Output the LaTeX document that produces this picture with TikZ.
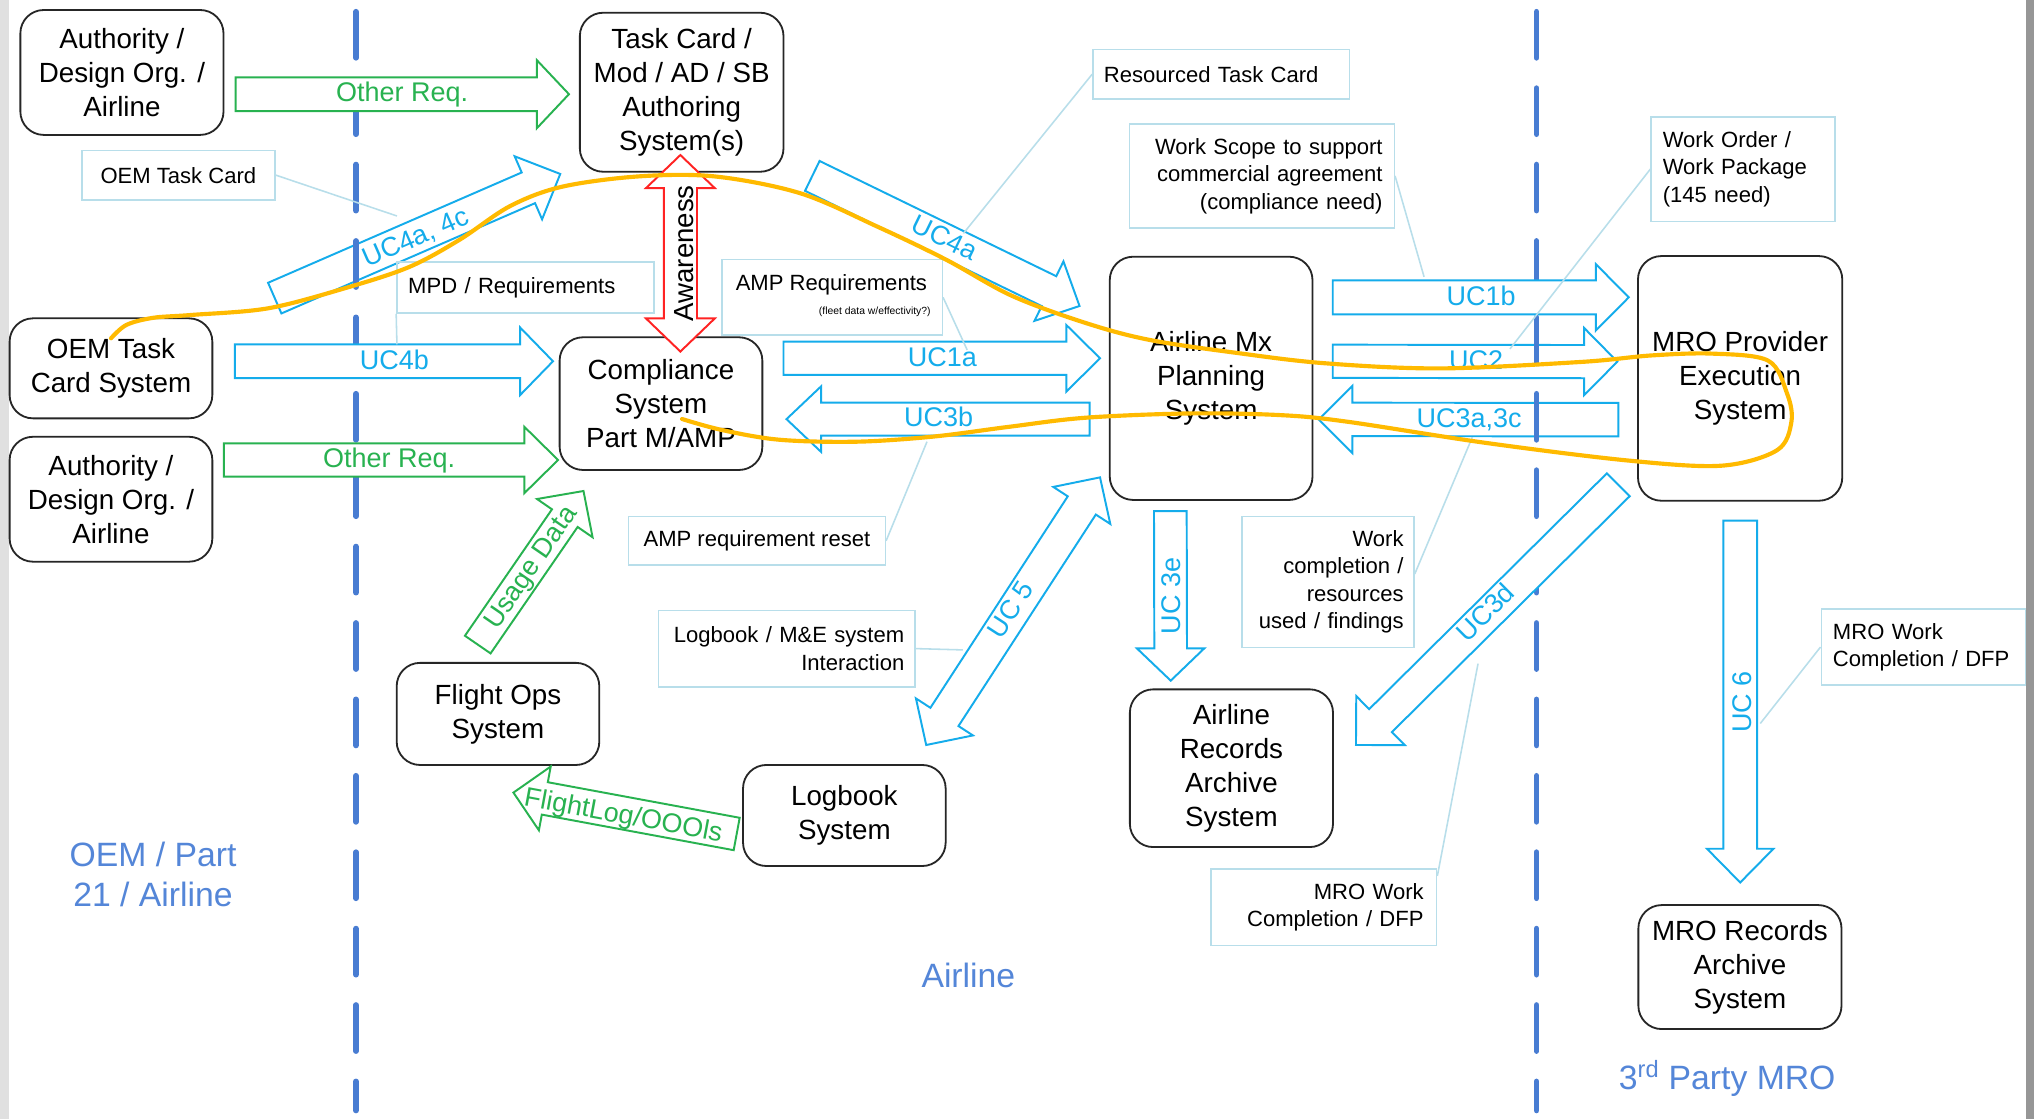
\documentclass[tikz,border=0pt]{standalone}
\usepackage{fontspec}
\setmainfont{Liberation Sans}
\usetikzlibrary{calc}
\definecolor{dashblue}{RGB}{72,124,210}
\definecolor{ucblue}{RGB}{20,172,235}
\definecolor{ucgreen}{RGB}{40,178,80}
\definecolor{callc}{RGB}{184,222,234}
\definecolor{regblue}{RGB}{84,134,216}
\definecolor{awred}{RGB}{255,35,35}
\definecolor{orng}{RGB}{255,186,0}
\definecolor{edgegray}{RGB}{150,150,150}
\definecolor{edgelight}{RGB}{224,224,224}

% single block arrow: style, tail, tip, half body, half head, head length
\newcommand\blockarr[6]{%
  \coordinate (ba-h) at ($(#3)!#6!(#2)$);
  \draw[#1] ($(#2)!#4!90:(#3)$) -- ($(ba-h)!#4!90:(#3)$) -- ($(ba-h)!#5!90:(#3)$) -- (#3)
    -- ($(ba-h)!#5!-90:(#3)$) -- ($(ba-h)!#4!-90:(#3)$) -- ($(#2)!#4!-90:(#3)$) -- cycle;}
% double block arrow
\newcommand\dblarr[6]{%
  \coordinate (da-p) at ($(#2)!#6!(#3)$);
  \coordinate (da-q) at ($(#3)!#6!(#2)$);
  \draw[#1] (#2) -- ($(da-p)!#5!90:(#3)$) -- ($(da-p)!#4!90:(#3)$) -- ($(da-q)!#4!90:(#3)$)
    -- ($(da-q)!#5!90:(#3)$) -- (#3) -- ($(da-q)!#5!-90:(#3)$) -- ($(da-q)!#4!-90:(#3)$)
    -- ($(da-p)!#4!-90:(#3)$) -- ($(da-p)!#5!-90:(#3)$) -- cycle;}

\begin{document}
\begin{tikzpicture}[x=1pt,y=-1pt,
  sysbox/.style={draw=black!85, line width=1.4pt, rounded corners=18pt, fill=white, align=center, inner sep=0pt, font=\fontsize{21.4}{26.3}\selectfont},
  blockb/.style={draw=ucblue, line width=1.5pt, fill=white},
  blockg/.style={draw=ucgreen, line width=1.5pt, fill=white},
  blockr/.style={draw=awred, line width=1.5pt, fill=white},
  ulabel/.style={text=ucblue, font=\fontsize{20.8}{24}\selectfont, inner sep=0pt, text height=12pt, text depth=0pt},
  glabel/.style={ulabel, text=ucgreen},
  klabel/.style={ulabel, text=black, font=\fontsize{21.3}{24}\selectfont},
  callbox/.style={draw=callc, line width=1.2pt, inner sep=0pt, font=\fontsize{17}{21.2}\selectfont},
  callline/.style={draw=callc, line width=1.2pt},
  region/.style={text=regblue, font=\fontsize{26}{31.4}\selectfont, align=center, inner sep=0pt},
  divider/.style={draw=dashblue, line width=4.5pt, line cap=round, dash pattern=on 35.4pt off 23.5pt},
  orangeline/.style={draw=orng, line width=3.2pt, line cap=round, line join=round}]

\fill[white] (0,0) rectangle (1568,863);
\useasboundingbox (0,0) rectangle (1568,863);
\fill[edgelight] (0,0) rectangle (7,863);
\fill[edgegray] (1561.5,0) rectangle (1568,863);

% ---- arrow end points
\coordinate (or1a) at (181.7,72.6);   \coordinate (or1b) at (438.6,72.6);
\coordinate (uc4ca) at (211.8,229.8); \coordinate (uc4cb) at (431.9,134.1);
\coordinate (uc4aa) at (626.2,135.6); \coordinate (uc4ab) at (832.2,235.9);
\coordinate (awa) at (524.5,119.5);   \coordinate (awb) at (524.5,271);
\coordinate (uc4ba) at (181,278.5);   \coordinate (uc4bb) at (426.3,278.5);
\coordinate (or2a) at (172.6,354.6);  \coordinate (or2b) at (430.2,354.6);
\coordinate (uc1aa) at (604,276.2);   \coordinate (uc1ab) at (848,276.2);
\coordinate (uc3ba) at (840,323.1);   \coordinate (uc3bb) at (606.3,323.1);
\coordinate (uc1ba) at (1027.4,229.2); \coordinate (uc1bb) at (1255.6,229.2);
\coordinate (uc2a) at (1027.4,278.5); \coordinate (uc2b) at (1246.8,278.8);
\coordinate (uc3aca) at (1247.6,323.5); \coordinate (uc3acb) at (1016.6,323.3);
\coordinate (uc5a) at (714,574.3);    \coordinate (uc5b) at (848,368);
\coordinate (uc3ea) at (902.2,394);   \coordinate (uc3eb) at (902.5,524.7);
\coordinate (uc3da) at (1247.5,373.7); \coordinate (uc3db) at (1045.3,574.3);
\coordinate (uc6a) at (1341.5,401.3); \coordinate (uc6b) at (1341.5,680.3);
\coordinate (usea) at (368.3,496.9);  \coordinate (useb) at (449.8,378.5);
\coordinate (fla) at (567.9,642.9);   \coordinate (flb) at (395.8,611);

% arrows that lie under the dividers
\blockarr{blockb}{uc4ca}{uc4cb}{12.9pt}{26.5pt}{26.8pt}
\blockarr{blockb}{uc2a}{uc2b}{12.8pt}{25.9pt}{25.6pt}
\blockarr{blockb}{uc3aca}{uc3acb}{12.9pt}{25.9pt}{25.9pt}

% ---- dividers
\draw[divider] (274.4,9.1) -- (274.4,856);
\draw[divider] (1184.5,9.1) -- (1184.5,856);

% ---- system boxes
\node[sysbox, minimum width=156.6pt, minimum height=96.3pt] (auth1) at (94,55.85) {Authority /\\Design Org. /\\Airline};
\node[sysbox, minimum width=157pt, minimum height=122.6pt] (taskcard) at (525.5,71.1) {Task Card /\\Mod / AD / SB\\Authoring\\System(s)};
\node[sysbox, minimum width=156.3pt, minimum height=77.1pt] (oemtc) at (85.55,283.95) {OEM Task\\Card System};
\node[sysbox, minimum width=156.3pt, minimum height=96.3pt] (auth2) at (85.55,384.85) {Authority /\\Design Org. /\\Airline};
\node[sysbox, minimum width=156.3pt, minimum height=102.3pt] (compl) at (509.55,311.15) {Compliance\\System\\Part M/AMP};
\node[sysbox, minimum width=156.3pt, minimum height=187.5pt] (mxplan) at (933.65,291.65) {Airline Mx\\Planning\\System};
\node[sysbox, minimum width=157.5pt, minimum height=188.6pt] (mroexec) at (1341.45,291.7) {MRO Provider\\Execution\\System};
\node[sysbox, minimum width=156.2pt, minimum height=78.7pt] (flightops) at (383.9,550.35) {Flight Ops\\System};
\node[sysbox, minimum width=156.2pt, minimum height=77.9pt] (logbook) at (650.9,628.65) {Logbook\\System};
\node[sysbox, minimum width=156.6pt, minimum height=121.6pt] (airrec) at (949.3,592.2) {Airline\\Records\\Archive\\System};
\node[sysbox, minimum width=156.6pt, minimum height=95.6pt] (mrorec) at (1341.3,745.5) {MRO Records\\Archive\\System};

% ---- arrows above the dividers
\blockarr{blockg}{or1a}{or1b}{13pt}{26.3pt}{24.8pt}
\blockarr{blockb}{uc4aa}{uc4ab}{12.8pt}{25.5pt}{26.2pt}
\blockarr{blockb}{uc4ba}{uc4bb}{13pt}{26pt}{25.3pt}
\blockarr{blockg}{or2a}{or2b}{12.85pt}{25.6pt}{26pt}
\blockarr{blockb}{uc1aa}{uc1ab}{12.8pt}{25.7pt}{26pt}
\blockarr{blockb}{uc3ba}{uc3bb}{12.75pt}{25.3pt}{26.7pt}
\blockarr{blockb}{uc1ba}{uc1bb}{13.1pt}{25.5pt}{25.3pt}
\blockarr{blockb}{uc3ea}{uc3eb}{12.6pt}{26pt}{24.9pt}
\blockarr{blockb}{uc3da}{uc3db}{12.45pt}{26.6pt}{26.7pt}
\blockarr{blockb}{uc6a}{uc6b}{13pt}{25.6pt}{26pt}
\blockarr{blockg}{usea}{useb}{12pt}{26pt}{25.4pt}
\blockarr{blockg}{fla}{flb}{12.7pt}{25pt}{24.6pt}
\dblarr{blockb}{uc5a}{uc5b}{12.9pt}{26.2pt}{25.8pt}
\dblarr{blockr}{awa}{awb}{12.8pt}{26.5pt}{25.5pt}

% ---- arrow labels
\node[glabel] (or1l) at (310,72.6) {Other Req.};
\node[ulabel, rotate=23.5] (uc4cl) at (320.5,183.5) {UC4a, 4c};
\node[ulabel, rotate=-26] (uc4al) at (728,184.3) {UC4a};
\node[klabel, rotate=90] (awl) at (528.5,195.3) {Awareness};
\node[ulabel] (uc4bl) at (304,278.5) {UC4b};
\node[glabel] (or2l) at (300,354.6) {Other Req.};
\node[ulabel] (uc1al) at (726.5,276.2) {UC1a};
\node[ulabel] (uc3bl) at (723.5,323.1) {UC3b};
\node[ulabel] (uc1bl) at (1141.8,229.2) {UC1b};
\node[ulabel] (uc2l) at (1138,278.6) {UC2};
\node[ulabel] (uc3acl) at (1132.6,323.4) {UC3a,3c};
\node[ulabel, rotate=57] (uc5l) at (780,470.3) {UC 5};
\node[ulabel, rotate=90] (uc3el) at (903.7,459.3) {UC 3e};
\node[ulabel, rotate=44.8] (uc3dl) at (1145.8,472.9) {UC3d};
\node[ulabel, rotate=90] (uc6l) at (1344,541) {UC 6};
\node[glabel, rotate=55.5] (usel) at (409.3,437.5) {Usage Data};
\node[glabel, rotate=-10.5] (fll) at (480.5,629) {FlightLog/OOOls};

% ---- callouts
\node[callbox, minimum width=149pt, minimum height=38pt, align=center] (cOEM) at (137.5,135) {OEM Task Card};
\node[callbox, minimum width=198pt, minimum height=39.4pt, text width=180.6pt, align=left] (cMPD) at (405,221.7) {MPD / Requirements};
\node[callbox, minimum width=169.8pt, minimum height=58.3pt] (cAMP) at (641.5,229.2) {};
\node[anchor=base west, inner sep=0pt, font=\fontsize{17}{21.2}\selectfont] (cAMPt) at (567,223.6) {AMP Requirements};
\node[anchor=base east, inner sep=0pt, font=\fontsize{8}{9}\selectfont] (cAMPs) at (717.6,242.8) {(fleet data w/effectivity?)};
\node[callbox, minimum width=197.9pt, minimum height=38.3pt, text width=180.9pt, align=left] (cRes) at (941.5,57.2) {Resourced Task Card};
\node[callbox, minimum width=204.1pt, minimum height=79.9pt, text width=186.1pt, align=right] (cScope) at (972.8,135.6) {Work Scope to support\\commercial agreement\\(compliance need)};
\node[callbox, minimum width=141.8pt, minimum height=80.7pt, text width=123.8pt, align=left] (cOrder) at (1343.7,130.4) {Work Order /\\Work Package\\(145 need)};
\node[callbox, minimum width=198pt, minimum height=37.2pt, align=center] (cReset) at (583.5,416.9) {AMP requirement reset};
\node[callbox, minimum width=198pt, minimum height=59.1pt, text width=181.2pt, align=right] (cLog) at (606.5,500) {Logbook / M\&E system\\Interaction};
\node[callbox, minimum width=132.6pt, minimum height=101pt, text width=116.6pt, align=right] (cWork) at (1023.7,448.5) {Work\\completion /\\resources\\used / findings};
\node[callbox, minimum width=173.9pt, minimum height=59.2pt, text width=153.9pt, align=right] (cMROl) at (1020.5,699.4) {MRO Work\\Completion / DFP};
\node[callbox, minimum width=157.4pt, minimum height=58.5pt, text width=139.4pt, align=left] (cMROr) at (1482.7,498.8) {MRO Work\\Completion / DFP};

\coordinate (cOEMe) at (306,166.5);
\coordinate (cMPDe) at (306,265.5);
\coordinate (cAMPe) at (745.6,269.8);
\coordinate (cRese) at (742.7,179.9);
\coordinate (cScopee) at (1097.8,213.4);
\coordinate (cOrdere) at (1164,269);
\coordinate (cResete) at (714.6,340.5);
\coordinate (cLoge) at (742.2,501);
\coordinate (cWorke) at (1135,337);
\coordinate (cMROle) at (1139.4,511.6);
\coordinate (cMROre) at (1357,557.7);

\draw[callline] (cOEM.east) -- (cOEMe);
\draw[callline] (cMPD.south west) -- (cMPDe);
\draw[callline] (cAMP.east) -- (cAMPe);
\draw[callline] (cRes.west) -- (cRese);
\draw[callline] (cScope.east) -- (cScopee);
\draw[callline] (cOrder.west) -- (cOrdere);
\draw[callline] (cReset.east) -- (cResete);
\draw[callline] (cLog.east) -- (cLoge);
\draw[callline] ($(cWork.east)+(0,-6)$) -- (cWorke);
\draw[callline] ($(cMROl.north east)+(0,6)$) -- (cMROle);
\draw[callline] (cMROr.west) -- (cMROre);

% ---- region labels
\node[region] (regoem) at (118,674) {OEM / Part\\21 / Airline};
\node[region, anchor=base] (regair) at (746.5,761.4) {Airline};
\node[region, anchor=base] (regmro) at (1331.5,839.5) {3\textsuperscript{rd} Party MRO};

% ---- orange flow line
\draw[orangeline] plot[smooth, tension=0.55] coordinates {(85.6,260.8) (97.4,250.5) (118,245) (147.5,242.8) (206.5,237.7) (265.5,222.3) (315,206) (354,185) (393,159) (433,144) (492,136) (551,136) (617,149) (677,175) (729,200) (780,228) (837,249) (886,262) (953,272) (1021,280) (1110,284) (1219,279) (1273,274) (1320,272.6) (1363,278) (1377.5,303) (1381,325) (1370,347) (1327,359) (1255,355) (1146,341.5) (1038,325) (987,320) (918,318.7) (837,322) (778,329) (719,336.6) (660,340.5) (601,339) (556.6,331.5) (525.8,323)};
\end{tikzpicture}
\end{document}
